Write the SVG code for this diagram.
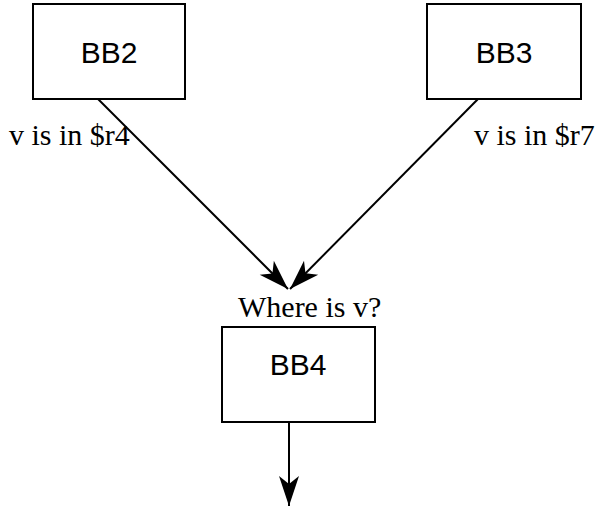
<svg xmlns="http://www.w3.org/2000/svg" width="598" height="507" viewBox="0 0 598 507">
<style>
.box{fill:#fff;stroke:#000;stroke-width:2}
.lbl{font-family:"Liberation Sans",Arial,sans-serif;font-size:30px;fill:#000;text-anchor:middle}
.note{font-family:"Liberation Serif","Times New Roman",serif;font-size:30px;fill:#000}
.edge{stroke:#000;stroke-width:2;fill:none;marker-end:url(#ah)}
</style>
<defs>
<marker id="ah" markerUnits="userSpaceOnUse" markerWidth="40" markerHeight="40" refX="32" refY="20" orient="auto" viewBox="0 0 40 40">
<path d="M32,20 L2,10 L10,20 L2,30 Z" fill="#000"/>
</marker>
</defs>
<rect width="598" height="507" fill="#fff"/>
<g id="connectors">
<line class="edge" x1="98" y1="99" x2="288" y2="289"/>
<line class="edge" x1="478" y1="99" x2="290" y2="289"/>
<line class="edge" x1="289" y1="422" x2="289" y2="506"/>
</g>
<g id="BB2">
<rect class="box" x="33" y="4" width="152" height="95"/>
<text class="lbl" x="109" y="63">BB2</text>
</g>
<g id="BB3">
<rect class="box" x="427" y="4" width="154" height="95"/>
<text class="lbl" x="504" y="63">BB3</text>
</g>
<g id="BB4">
<rect class="box" x="222" y="327" width="153" height="95"/>
<text class="lbl" x="298" y="375">BB4</text>
</g>
<text class="note" x="9" y="145">v is in $r4</text>
<text class="note" x="474" y="145">v is in $r7</text>
<text class="note" x="238" y="317">Where is v?</text>
</svg>
